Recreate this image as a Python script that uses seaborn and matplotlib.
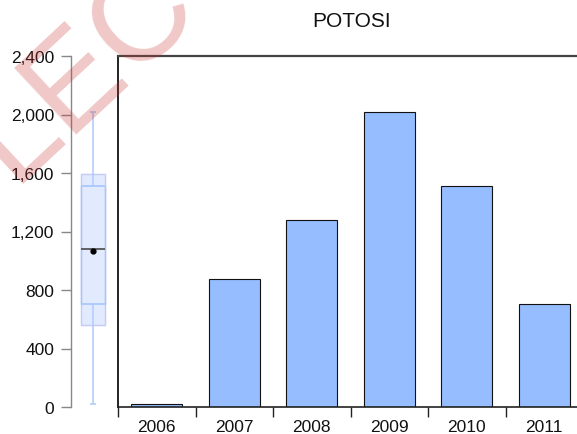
import numpy as np
import pandas as pd
import matplotlib
matplotlib.use("Agg")
import matplotlib.pyplot as plt
import seaborn as sns
from matplotlib.ticker import FuncFormatter, FixedLocator

years = ["2006", "2007", "2008", "2009", "2010", "2011"]
values = [20, 875, 1279, 2017, 1510, 704]
yticks = [0, 400, 800, 1200, 1600, 2000, 2400]
title = "POTOSI"
watermark = "LECT"

sns.set_theme(style="white")
plt.rcParams["font.family"] = ["Liberation Sans", "DejaVu Sans"]

W, H = 577, 435
fig = plt.figure(figsize=(W / 100, H / 100), dpi=100)

def fx(px):
    return px / W

def fy(py):
    return 1 - py / H

top_px, bot_px = 57, 408
ax = fig.add_axes([fx(118), fy(bot_px), fx(583 - 118), (bot_px - top_px) / H])
axb = fig.add_axes([fx(71), fy(bot_px), fx(44), (bot_px - top_px) / H])

df = pd.DataFrame({"year": years, "value": values})
sns.barplot(data=df, x="year", y="value", ax=ax, color="#96bdff", saturation=1,
            width=0.655, edgecolor="#111111", linewidth=0.8)
ax.set_xlim(-0.5, len(years) - 0.5)
ax.set_ylim(0, 2400)
ax.set_xlabel("")
ax.set_ylabel("")
ax.set_yticks([])
ax.tick_params(axis="x", which="major", length=0, labelsize=12.5, pad=9, colors="#111111")
ax.xaxis.set_minor_locator(FixedLocator(np.arange(-0.5, len(years), 1.0)))
ax.tick_params(axis="x", which="minor", length=7, width=1, color="#222222", direction="out", bottom=True)
for s in ["left", "top", "bottom"]:
    ax.spines[s].set_visible(True)
    ax.spines[s].set_color("#222222")
ax.spines["top"].set_linewidth(1.6)
ax.spines["top"].set_color("#444444")
ax.spines["left"].set_linewidth(1.4)
ax.spines["bottom"].set_linewidth(1.2)
ax.spines["right"].set_visible(False)
fig.text(fx(352), fy(26.7), title, fontsize=15, color="#111111", ha="center", va="baseline")

# box plot axis (EViews style)
v = np.sort(np.array(values, dtype=float))
n = len(v)
med = np.median(v)
q1 = np.median(v[: (n + 1) // 2])
q3 = np.median(v[n // 2:])
iqr = q3 - q1
ci_lo = med - 1.57 * iqr / np.sqrt(n)
ci_hi = med + 1.57 * iqr / np.sqrt(n)
mean = v.mean()
lo_w = v[v >= q1 - 1.5 * iqr].min()
hi_w = v[v <= q3 + 1.5 * iqr].max()

axb.set_xlim(-1, 1)
axb.set_ylim(0, 2400)
hw = 0.54
axb.fill_between([-hw, hw], ci_lo, ci_hi, color="#e1ebfd", zorder=1)
axb.plot([-hw, hw, hw, -hw, -hw], [ci_lo, ci_lo, ci_hi, ci_hi, ci_lo], color="#c8ccf5", lw=1, zorder=2)
axb.vlines([-hw, hw], q1, q3, color="#a6c4ff", lw=1, zorder=3)
axb.hlines([q1, q3], -hw, hw, color="#a6c4ff", lw=1.2, zorder=3)
axb.vlines(0, lo_w, q1, color="#b4cdfc", lw=1.2, zorder=2)
axb.vlines(0, q3, hi_w, color="#b4cdfc", lw=1.2, zorder=2)
axb.hlines([lo_w, hi_w], -0.14, 0.14, color="#b4cdfc", lw=1.2, zorder=2)
axb.hlines(med, -hw, hw, color="#555555", lw=1.3, zorder=4)
axb.plot([0], [mean], "o", color="black", ms=3.5, zorder=5)

axb.set_yticks(yticks)
axb.yaxis.set_major_formatter(FuncFormatter(lambda x, p: f"{int(x):,}"))
axb.set_xticks([])
axb.tick_params(axis="y", length=7, width=1, color="#888888", labelsize=12.5, pad=5,
                labelcolor="#111111", left=True)
for s in ["top", "right", "bottom"]:
    axb.spines[s].set_visible(False)
axb.spines["left"].set_color("#888888")
axb.spines["left"].set_linewidth(1)
axb.patch.set_alpha(0)

fig.text(fx(12), fy(184), watermark, fontsize=95, color="#c83232", alpha=0.27,
         rotation=43, ha="left", va="baseline", rotation_mode="anchor", zorder=10)

fig.savefig("out.png", dpi=100)
